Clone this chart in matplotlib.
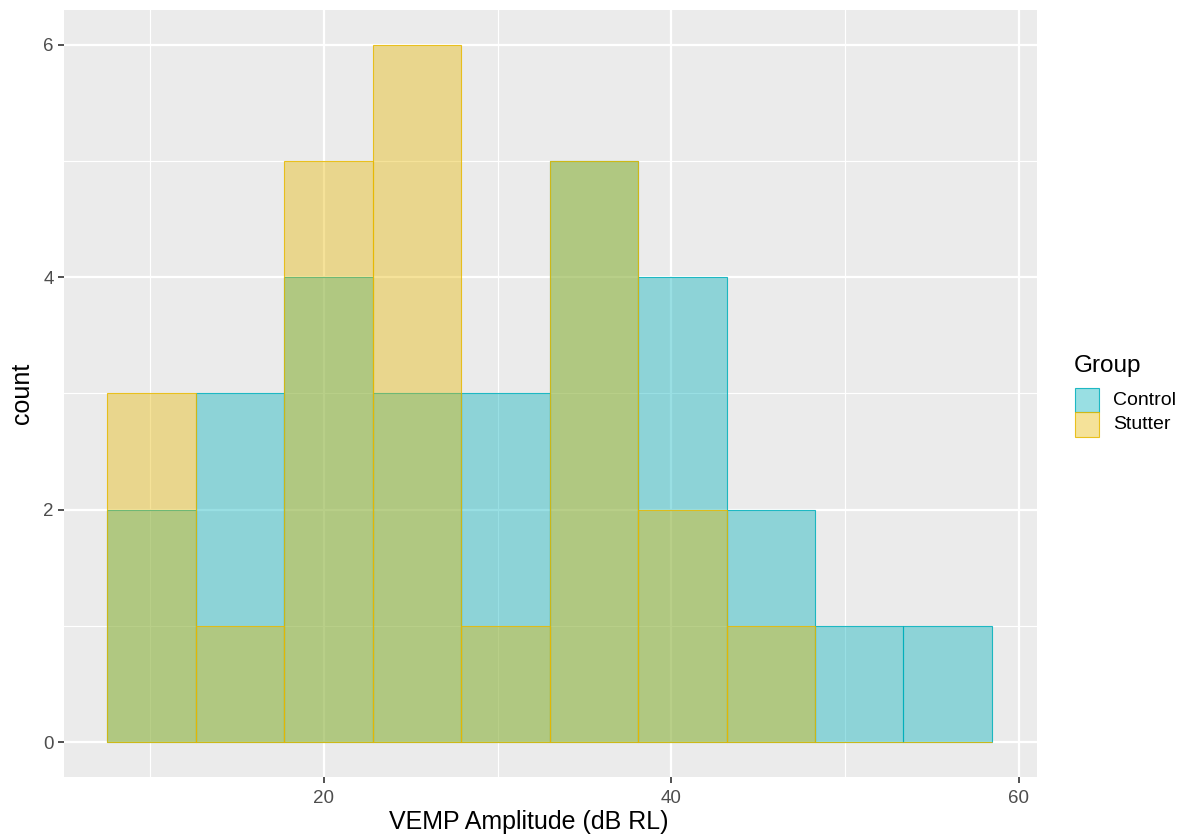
import numpy as np
import matplotlib.pyplot as plt
from matplotlib.colors import to_rgba
from matplotlib.patches import Rectangle
from matplotlib.ticker import MultipleLocator

# histogram bins (10 bins, width ~5.09) and counts per group
bin_edges = [7.55, 12.64, 17.73, 22.82, 27.91, 33.0, 38.09, 43.18, 48.27, 53.36, 58.45]
groups = ["Control", "Stutter"]
control_counts = [2, 3, 4, 3, 3, 5, 4, 2, 1, 1]
stutter_counts = [3, 1, 5, 6, 1, 5, 2, 1, 0, 0]
group_colors = ["#00AFBB", "#E7B800"]

plt.rcParams['font.family'] = ['Liberation Sans', 'DejaVu Sans']

fig = plt.figure(figsize=(11.81, 8.38), dpi=100)
W, H = 1181, 838
ax = fig.add_axes([64 / W, 1 - 777 / H, (1037 - 64) / W, (777 - 10) / H])
ax.set_facecolor("#EBEBEB")

edges = np.array(bin_edges)
lefts = edges[:-1]
widths = np.diff(edges)
for counts, col in zip([control_counts, stutter_counts], group_colors):
    ax.bar(lefts, counts, width=widths, align="edge",
           facecolor=to_rgba(col, 0.4), edgecolor=to_rgba(col, 0.85),
           linewidth=0.8, zorder=3)

ax.set_xlim(5.05, 61.05)
ax.set_ylim(-0.3, 6.3)
ax.xaxis.set_major_locator(MultipleLocator(20))
ax.xaxis.set_minor_locator(MultipleLocator(10))
ax.yaxis.set_major_locator(MultipleLocator(2))
ax.yaxis.set_minor_locator(MultipleLocator(1))
ax.set_xticks([20, 40, 60])
ax.set_yticks([0, 2, 4, 6])
ax.grid(which="major", color="white", linewidth=1.6, zorder=1)
ax.grid(which="minor", color="white", linewidth=0.8, zorder=1)
ax.set_axisbelow(True)
for s in ax.spines.values():
    s.set_visible(False)
ax.tick_params(which="major", length=4.5, width=1.2, color="#333333",
               labelsize=13.5, labelcolor="#4D4D4D")
ax.tick_params(axis="x", which="major", pad=5)
ax.tick_params(axis="y", which="major", pad=3)
ax.tick_params(which="minor", length=0)

ax.set_xlabel("VEMP Amplitude (dB RL)", fontsize=18)
ax.xaxis.set_label_coords(0.478, -0.043)
ax.set_ylabel("count", fontsize=18)
ax.yaxis.set_label_coords(-0.031, 0.5)

# legend drawn by hand, positions in figure pixels
def fx(px):
    return px / W

def fy(py):
    return 1 - py / H

fig.text(fx(1074), fy(366), "Group", fontsize=17.5, ha="left", va="center")
key_top = 388
key_h = 24.5
for i, (g, c) in enumerate(zip(groups, group_colors)):
    y0 = key_top + i * key_h
    fig.add_artist(Rectangle((fx(1075), fy(y0 + key_h)), 24 / W, key_h / H,
                             transform=fig.transFigure, facecolor=to_rgba(c, 0.4),
                             edgecolor=to_rgba(c, 0.85), linewidth=0.8))
    fig.text(fx(1113), fy(y0 + key_h / 2), g, fontsize=14, ha="left", va="center")

fig.savefig("out.png", dpi=100)
